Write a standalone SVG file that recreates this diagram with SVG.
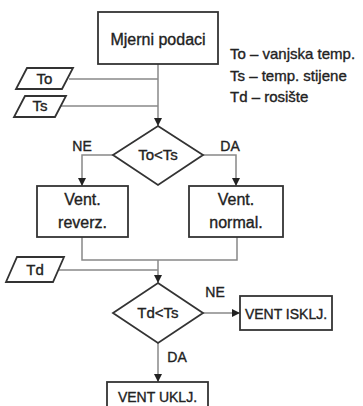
<svg xmlns="http://www.w3.org/2000/svg" width="363" height="406" viewBox="0 0 363 406">
<style>
.box{fill:#fff;stroke:#333;stroke-width:1.8}
.ln{fill:none;stroke:#888;stroke-width:1.5}
.t{font-family:"Liberation Sans",Arial,sans-serif;font-size:16px;fill:#222;stroke:#222;stroke-width:0.35;text-anchor:middle}
.s15{font-size:15px}
.s14{font-size:14px}
.lg{font-family:"Liberation Sans",Arial,sans-serif;font-size:15px;fill:#222;stroke:#222;stroke-width:0.35}
</style>
<defs>
<marker id="ah" markerUnits="userSpaceOnUse" markerWidth="8" markerHeight="8" refX="8" refY="4" orient="auto">
<path d="M0,0 L8,4 L0,8 z" fill="#222"/>
</marker>
</defs>
<rect width="363" height="406" fill="#fff"/>
<g id="connectors">
<path class="ln" d="M158,64 V126" marker-end="url(#ah)"/>
<path class="ln" d="M69,79 H158"/>
<path class="ln" d="M61,106 H158"/>
<path class="ln" d="M113,155 H82 V186" marker-end="url(#ah)"/>
<path class="ln" d="M203,155 H236 V186" marker-end="url(#ah)"/>
<path class="ln" d="M82,237 V260 H237 V237"/>
<path class="ln" d="M59,270 H158"/>
<path class="ln" d="M158,260 V283" marker-end="url(#ah)"/>
<path class="ln" d="M203,313 H240" marker-end="url(#ah)"/>
<path class="ln" d="M158,343 V382" marker-end="url(#ah)"/>
</g>
<g id="mjerni">
<rect class="box" x="98" y="12" width="120" height="52"/>
<text class="t" x="158" y="45">Mjerni podaci</text>
</g>
<g id="legend">
<text class="lg" x="230" y="59">To – vanjska temp.</text>
<text class="lg" x="230" y="81">Ts – temp. stijene</text>
<text class="lg" x="230" y="102">Td – rosište</text>
</g>
<g id="in-to">
<polygon class="box" points="27,68 73,68 62,89 16,89"/>
<text class="t s15" x="44.5" y="84">To</text>
</g>
<g id="in-ts">
<polygon class="box" points="25,96 66,96 55,117 14,117"/>
<text class="t s15" x="40" y="111">Ts</text>
</g>
<g id="dec1">
<polygon class="box" points="158,126 203,155 158,185 113,155"/>
<text class="t s15" x="158" y="160">To&lt;Ts</text>
</g>
<text class="t s14" x="82" y="151">NE</text>
<text class="t s14" x="230" y="151">DA</text>
<g id="reverz">
<rect class="box" x="37" y="186" width="91" height="51"/>
<text class="t" x="82.5" y="205">Vent.</text>
<text class="t" x="82.5" y="228">reverz.</text>
</g>
<g id="normal">
<rect class="box" x="189" y="186" width="94" height="51"/>
<text class="t" x="236" y="205">Vent.</text>
<text class="t" x="236" y="228">normal.</text>
</g>
<g id="in-td">
<polygon class="box" points="17,257 64,257 53,282 6,282"/>
<text class="t s15" x="35" y="275">Td</text>
</g>
<g id="dec2">
<polygon class="box" points="158,283 203,313 158,343 113,313"/>
<text class="t s15" x="158" y="318">Td&lt;Ts</text>
</g>
<text class="t s14" x="215" y="297">NE</text>
<text class="t s14" x="177" y="362">DA</text>
<g id="isklj">
<rect class="box" x="240" y="296" width="92" height="34"/>
<text class="t s14" x="286" y="319">VENT ISKLJ.</text>
</g>
<g id="uklj">
<rect class="box" x="107" y="382" width="101" height="30"/>
<text class="t s14" x="157.5" y="402">VENT UKLJ.</text>
</g>
</svg>
